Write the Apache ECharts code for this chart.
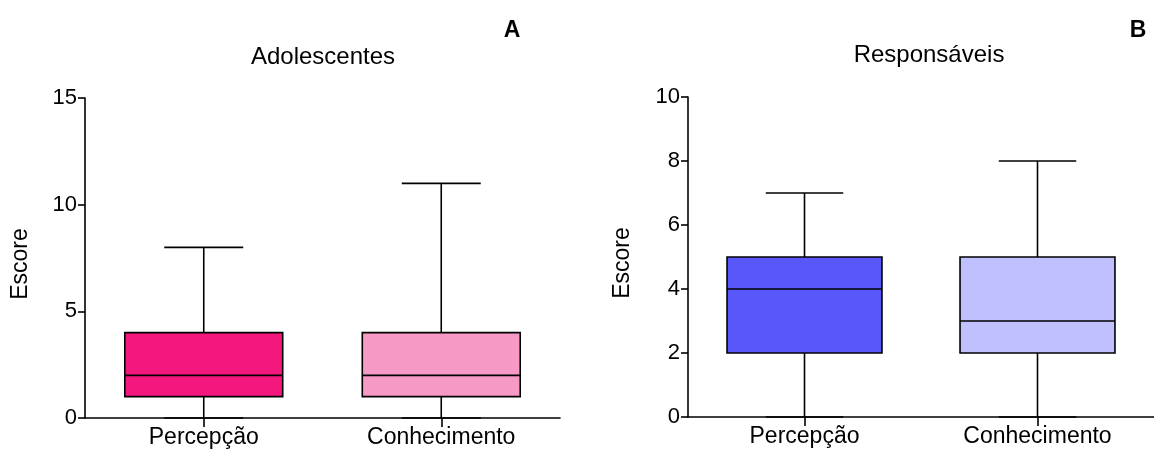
<!DOCTYPE html>
<html>
<head>
<meta charset="utf-8">
<script src="https://cdn.jsdelivr.net/npm/echarts@6/dist/echarts.min.js"></script>
<style>html,body{margin:0;padding:0;background:#fff}#c{width:1154px;height:453px}</style>
</head>
<body>
<div id="c"></div>
<script>
// Data
const categories = ['Percepção', 'Conhecimento'];
// [min, Q1, median, Q3, max]
const adolescentesPercepcao = [0, 1, 2, 4, 8];
const adolescentesConhecimento = [0, 1, 2, 4, 11];
const responsaveisPercepcao = [0, 2, 4, 5, 7];
const responsaveisConhecimento = [0, 2, 3, 5, 8];
const adolescentesColors = ['#F4177D', '#F799C5'];
const responsaveisColors = ['#5858FA', '#C0C0FF'];
const panelTitles = ['Adolescentes', 'Responsáveis'];
const panelLetters = ['A', 'B'];
const yName = 'Escore';

const FONT = 'Liberation Sans, Arial, sans-serif';
const chart = echarts.init(document.getElementById('c'));

function makeRender(colors) {
  return function (params, api) {
    const xi = api.value(0);
    const mn = api.value(1), q1 = api.value(2), md = api.value(3), q3 = api.value(4), mx = api.value(5);
    const cx = api.coord([xi, md])[0];
    const band = api.size([1, 0])[0];
    const bw = band * 0.665;
    const y = v => api.coord([xi, v])[1];
    const ls = { stroke: '#000', lineWidth: 1.6 };
    const fill = colors[params.dataIndex];
    return {
      type: 'group',
      children: [
        { type: 'line', shape: { x1: cx, y1: y(mx), x2: cx, y2: y(q3) }, style: ls },
        { type: 'line', shape: { x1: cx, y1: y(mn), x2: cx, y2: y(q1) }, style: ls },
        { type: 'line', shape: { x1: cx - bw / 4, y1: y(mx), x2: cx + bw / 4, y2: y(mx) }, style: ls },
        { type: 'line', shape: { x1: cx - bw / 4, y1: y(mn), x2: cx + bw / 4, y2: y(mn) }, style: ls },
        { type: 'rect', shape: { x: cx - bw / 2, y: y(q3), width: bw, height: y(q1) - y(q3) },
          style: { fill: fill, stroke: '#000', lineWidth: 1.6 } },
        { type: 'line', shape: { x1: cx - bw / 2, y1: y(md), x2: cx + bw / 2, y2: y(md) }, style: ls }
      ]
    };
  };
}

const axisLineStyle = { lineStyle: { color: '#000', width: 1.6 } };

function xAxis(gi) {
  return {
    type: 'category', gridIndex: gi, data: categories,
    axisLine: axisLineStyle,
    axisTick: { show: true, alignWithLabel: true, length: 9, lineStyle: { color: '#000', width: 1.6 } },
    axisLabel: { color: '#000', fontSize: 23, fontFamily: FONT, margin: 8 },
    splitLine: { show: false }
  };
}
function yAxis(gi, max, interval, gap) {
  return {
    type: 'value', gridIndex: gi, min: 0, max: max, interval: interval,
    name: yName, nameLocation: 'middle', nameGap: gap, nameRotate: 90,
    nameTextStyle: { color: '#000', fontSize: 23, fontFamily: FONT, padding: [0, 12, 0, 0] },
    axisLine: { show: true, lineStyle: { color: '#000', width: 1.6 } },
    axisTick: { show: true, length: 7, lineStyle: { color: '#000', width: 1.6 } },
    axisLabel: { color: '#000', fontSize: 22, fontFamily: FONT, margin: 8 },
    splitLine: { show: false }
  };
}

chart.setOption({
  animation: false,
  backgroundColor: '#fff',
  grid: [
    { left: 85, top: 98, width: 475, height: 320 },
    { left: 688, top: 97, width: 476, height: 320 }
  ],
  xAxis: [xAxis(0), xAxis(1)],
  yAxis: [yAxis(0, 15, 5, 53), yAxis(1, 10, 2, 54)],
  graphic: [
    { type: 'text', style: { text: panelTitles[0], x: 323, y: 57, textAlign: 'center', textVerticalAlign: 'middle', font: '24px ' + FONT, fill: '#000' } },
    { type: 'text', style: { text: panelTitles[1], x: 929, y: 55, textAlign: 'center', textVerticalAlign: 'middle', font: '24px ' + FONT, fill: '#000' } },
    { type: 'text', style: { text: panelLetters[0], x: 512, y: 31, textAlign: 'center', textVerticalAlign: 'middle', font: 'bold 23px ' + FONT, fill: '#000' } },
    { type: 'text', style: { text: panelLetters[1], x: 1138, y: 31, textAlign: 'center', textVerticalAlign: 'middle', font: 'bold 23px ' + FONT, fill: '#000' } }
  ],
  series: [
    { type: 'custom', xAxisIndex: 0, yAxisIndex: 0, renderItem: makeRender(adolescentesColors),
      data: [[0].concat(adolescentesPercepcao), [1].concat(adolescentesConhecimento)], clip: false },
    { type: 'custom', xAxisIndex: 1, yAxisIndex: 1, renderItem: makeRender(responsaveisColors),
      data: [[0].concat(responsaveisPercepcao), [1].concat(responsaveisConhecimento)], clip: false }
  ]
});
</script>
</body>
</html>
